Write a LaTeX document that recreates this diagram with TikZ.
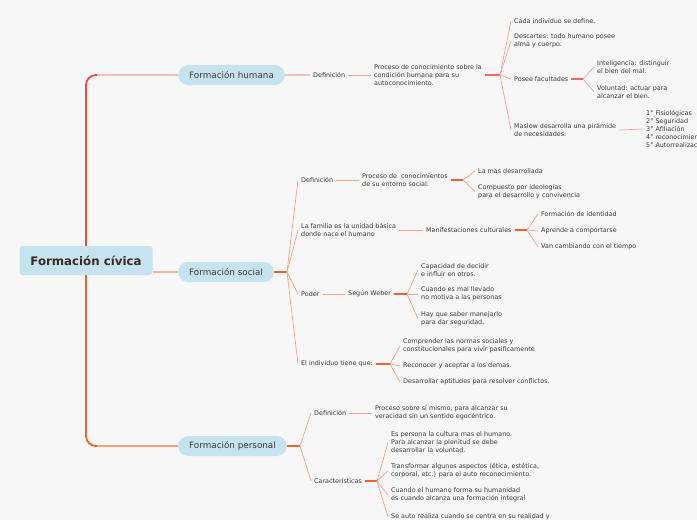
\documentclass[tikz,border=0pt]{standalone}
\usepackage{fontspec}
\setmainfont{DejaVu Sans}
\definecolor{bg}{HTML}{F7F7F7}
\definecolor{ink}{HTML}{3A3A3A}
\definecolor{rootink}{HTML}{3B2A22}
\definecolor{pillblue}{HTML}{C6E4EF}
\definecolor{trunkup}{HTML}{F04A3F}
\definecolor{trunkdown}{HTML}{F0602E}
\definecolor{armup}{HTML}{F7BFBA}
\definecolor{armmid}{HTML}{F6B49C}
\definecolor{armdown}{HTML}{F6A07E}
\definecolor{humtwig}{HTML}{F4A39C}
\definecolor{humstub}{HTML}{EF6A5F}
\definecolor{soctwig}{HTML}{F4A587}
\definecolor{socstub}{HTML}{F06233}

\begin{document}
\begin{tikzpicture}[x=1pt, y=-1pt,
  root/.style={fill=pillblue, rounded corners=3pt, minimum width=133pt, minimum height=29pt, text=rootink, font=\bfseries\fontsize{11.8}{13}\selectfont},
  pill/.style={anchor=west, fill=pillblue, rounded corners=10pt, minimum height=20pt, inner xsep=11pt, text=ink, font=\fontsize{8.8}{10}\selectfont},
  leaf/.style={anchor=west, align=left, inner xsep=3pt, inner ysep=1pt, text=ink, font=\fontsize{6.4}{8}\selectfont},
  hstub/.style={draw=humstub, line width=1.2pt},
  htwig/.style={draw=humtwig, line width=0.7pt},
  sstub/.style={draw=socstub, line width=1.2pt},
  stwig/.style={draw=soctwig, line width=0.7pt}
]
\clip (0,0) rectangle (697,520);
\fill[bg] (0,0) rectangle (697,520);

% centro y ramas principales
\node[root] (fc) at (86,260.5) {Formación cívica};
\node[pill] (hum) at (178,75) {Formación humana};
\node[pill] (soc) at (178,272) {Formación social};
\node[pill] (per) at (178,446) {Formación personal};

\coordinate (ct) at (97,75);
\coordinate (cb) at (97,446);
\draw[trunkup, line width=1.8pt, rounded corners=10pt] (fc.north) |- (ct);
\draw[armup, line width=1.2pt] (ct) -- (hum.west);
\draw[trunkdown, line width=1.8pt, rounded corners=10pt] (fc.south) |- (cb);
\draw[armdown, line width=1.2pt] (cb) -- (per.west);
\draw[armmid, line width=1.2pt] (fc.east |- soc.west) -- (soc.west);

% formacion humana
\node[leaf] (h1) at (310,75) {Definición};
\node[leaf] (h2) at (371,75) {Proceso de conocimiento sobre la\\condición humana para su\\autoconocimiento.};
\coordinate (hf) at (500,75);
\node[leaf] (h3) at (511,21) {Cada individuo se define.};
\node[leaf] (h4) at (511,41) {Descartes: todo humano posee\\alma y cuerpo.};
\node[leaf] (h5) at (511,79) {Posee facultades};
\node[leaf] (h6) at (511,130) {Maslow desarrolla una pirámide\\de necesidades:};
\coordinate (pf) at (583,79);
\node[leaf] (h7) at (594,67) {Inteligencia: distinguir\\el bien del mal.};
\node[leaf] (h8) at (594,92) {Voluntad: actuar para\\alcanzar el bien.};
\node[leaf] (h9) at (643,129) {1° Fisiológicas\\2° Seguridad\\3° Afiliación\\4° reconocimiento\\5° Autorrealización};

\draw[armup, line width=1.2pt] (hum.east) -- (h1.west);
\draw[htwig] (h1.east) -- (h2.west);
\draw[hstub] (h2.east) -- (hf);
\draw[htwig] (hf) -- (h3.west);
\draw[htwig] (hf) -- (h4.west);
\draw[htwig] (hf) -- (h5.west);
\draw[htwig] (hf) -- (h6.west);
\draw[hstub] (h5.east) -- (pf);
\draw[htwig] (pf) -- (h7.west);
\draw[htwig] (pf) -- (h8.west);
\draw[htwig] (h6.east) -- (h9.west);

% formacion social
\coordinate (sf) at (287,272);
\node[leaf] (s1) at (298,180) {Definición};
\node[leaf] (s2) at (298,230) {La familia es la unidad básica\\donde nace el humano};
\node[leaf] (s3) at (298,294) {Poder};
\node[leaf] (s4) at (298,364) {El individuo tiene que:};
\node[leaf] (s5) at (359,180) {Proceso de~ conocimientos\\de su entorno social.};
\coordinate (sf1) at (463,180);
\node[leaf] (s6) at (475,171) {La mas desarrollada};
\node[leaf] (s7) at (475,191.5) {Compuesto por ideologías\\para el desarrollo y convivencia};
\node[leaf] (s8) at (423,230) {Manifestaciones culturales};
\coordinate (sf2) at (527,230);
\node[leaf] (s9) at (538,214) {Formación de identidad};
\node[leaf] (s10) at (538,231) {Aprende a comportarse};
\node[leaf] (s11) at (538,247) {Van cambiando con el tiempo};
\node[leaf] (s12) at (345,294) {Según Weber};
\coordinate (sf3) at (407,294);
\node[leaf] (s13) at (418,270) {Capacidad de decidir\\e influir en otros.};
\node[leaf] (s14) at (418,294) {Cuando es mal llevado\\no motiva a las personas};
\node[leaf] (s15) at (418,319) {Hay que saber manejarlo\\para dar seguridad.};
\coordinate (sf4) at (390,364);
\node[leaf] (s16) at (400,346) {Comprender las normas sociales y\\constitucionales para vivir pasificamente};
\node[leaf] (s17) at (400,366) {Reconocer y aceptar a los demas.};
\node[leaf] (s18) at (400,382) {Desarrollar aptitudes para resolver conflictos.};

\draw[sstub] (soc.east) -- (sf);
\draw[stwig] (sf) -- (s1.west);
\draw[stwig] (sf) -- (s2.west);
\draw[stwig] (sf) -- (s3.west);
\draw[stwig] (sf) -- (s4.west);
\draw[stwig] (s1.east) -- (s5.west);
\draw[sstub] (s5.east) -- (sf1);
\draw[stwig] (sf1) -- (s6.west);
\draw[stwig] (sf1) -- (s7.west);
\draw[stwig] (s2.east) -- (s8.west);
\draw[sstub] (s8.east) -- (sf2);
\draw[stwig] (sf2) -- (s9.west);
\draw[stwig] (sf2) -- (s10.west);
\draw[stwig] (sf2) -- (s11.west);
\draw[stwig] (s3.east) -- (s12.west);
\draw[sstub] (s12.east) -- (sf3);
\draw[stwig] (sf3) -- (s13.west);
\draw[stwig] (sf3) -- (s14.west);
\draw[stwig] (sf3) -- (s15.west);
\draw[sstub] (s4.east) -- (sf4);
\draw[stwig] (sf4) -- (s16.west);
\draw[stwig] (sf4) -- (s17.west);
\draw[stwig] (sf4) -- (s18.west);

% formacion personal
\coordinate (pf0) at (300,446);
\node[leaf] (p1) at (311,413) {Definición};
\node[leaf] (p2) at (311,481) {Características};
\node[leaf] (p3) at (372,413) {Proceso sobre sí mismo, para alcanzar su\\veracidad sin un sentido egocéntrico.};
\coordinate (pf1) at (377,481);
\node[leaf] (p4) at (388,442.5) {Es persona la cultura mas el humano.\\Para alcanzar la plenitud se debe\\desarrollar la voluntad.};
\node[leaf] (p5) at (388,471) {Transformar algunos aspectos (ética, estética,\\corporal, etc.) para el auto reconocimiento.};
\node[leaf] (p6) at (388,495) {Cuando el humano forma su humanidad\\es cuando alcanza una formación integral};
\node[leaf] (p7) at (388,517) {Se auto realiza cuando se centra en su realidad y};

\draw[sstub] (per.east) -- (pf0);
\draw[stwig] (pf0) -- (p1.west);
\draw[stwig] (pf0) -- (p2.west);
\draw[stwig] (p1.east) -- (p3.west);
\draw[sstub] (p2.east) -- (pf1);
\draw[stwig] (pf1) -- (p4.west);
\draw[stwig] (pf1) -- (p5.west);
\draw[stwig] (pf1) -- (p6.west);
\draw[stwig] (pf1) -- (p7.west);
\end{tikzpicture}
\end{document}
